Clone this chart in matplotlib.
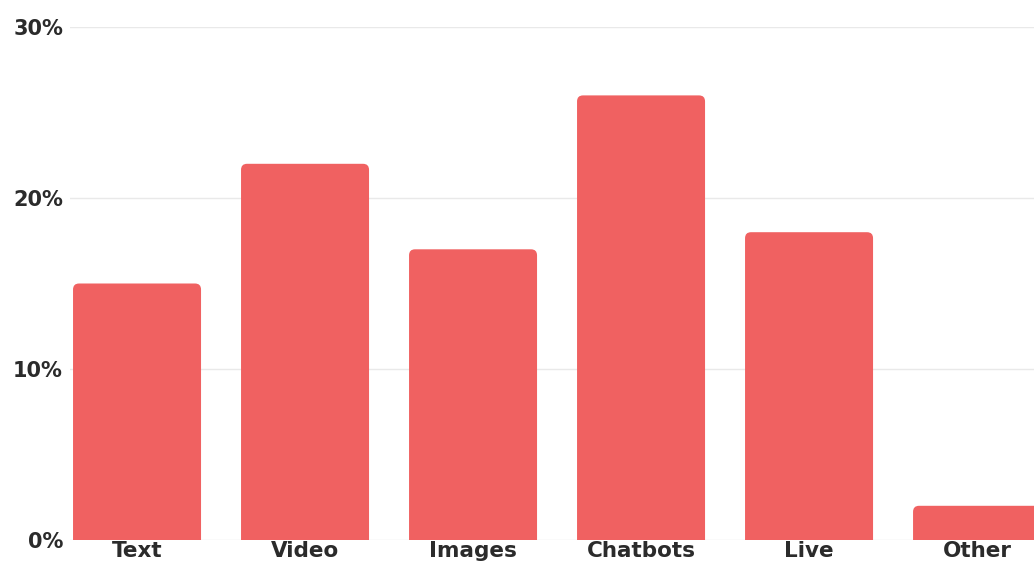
import matplotlib.pyplot as plt
from matplotlib.patches import FancyBboxPatch
from matplotlib.ticker import FuncFormatter

# data
categories = ["Text", "Video", "Images", "Chatbots", "Live", "Other"]
shares = [15, 22, 17, 26, 18, 2]
y_ticks = [0, 10, 20, 30]

bar_color = "#F06161"
text_color = "#2b2b2b"

plt.rcParams['font.family'] = ['DejaVu Sans']

fig = plt.figure(figsize=(10.34, 5.63), dpi=100)
W, H = 1034, 563
# axes in pixel terms: left 70, right 1034, bottom y=540 (from top), top y=27
ax = fig.add_axes([70 / W, (H - 540) / H, (1034 - 70) / W, (540 - 27) / H])

x = list(range(len(categories)))
bars = ax.bar(x, shares, width=128 / 168, color=bar_color, zorder=2)

# swap plain bars for ones with rounded tops
px_x = 168.0          # pixels per x unit
px_y = 513.0 / 30.0   # pixels per y unit
for b in bars:
    bx, bw, bh = b.get_x(), b.get_width(), b.get_height()
    b.set_visible(False)
    patch = FancyBboxPatch((bx, -2), bw, bh + 2,
                           boxstyle="round,pad=0,rounding_size=%f" % (6 / px_x),
                           mutation_aspect=px_x / px_y,
                           facecolor=bar_color, edgecolor="none", zorder=2)
    ax.add_patch(patch)

ax.set_xlim(-0.399, 5.339)
ax.set_ylim(0, 30)
ax.set_yticks(y_ticks)
ax.yaxis.set_major_formatter(FuncFormatter(lambda v, p: "%d%%" % v))
ax.set_xticks(x)
ax.set_xticklabels(categories)

for s in ax.spines.values():
    s.set_visible(False)
ax.grid(axis="y", color="#e9e9e9", linewidth=1, zorder=0)
ax.set_axisbelow(True)
ax.tick_params(axis="both", length=0, labelcolor=text_color)
ax.tick_params(axis="x", pad=0.5, labelsize=15.5)
ax.tick_params(axis="y", pad=5, labelsize=15)
for lab in ax.get_xticklabels() + ax.get_yticklabels():
    lab.set_fontweight("bold")

fig.savefig("out.png", dpi=100)
